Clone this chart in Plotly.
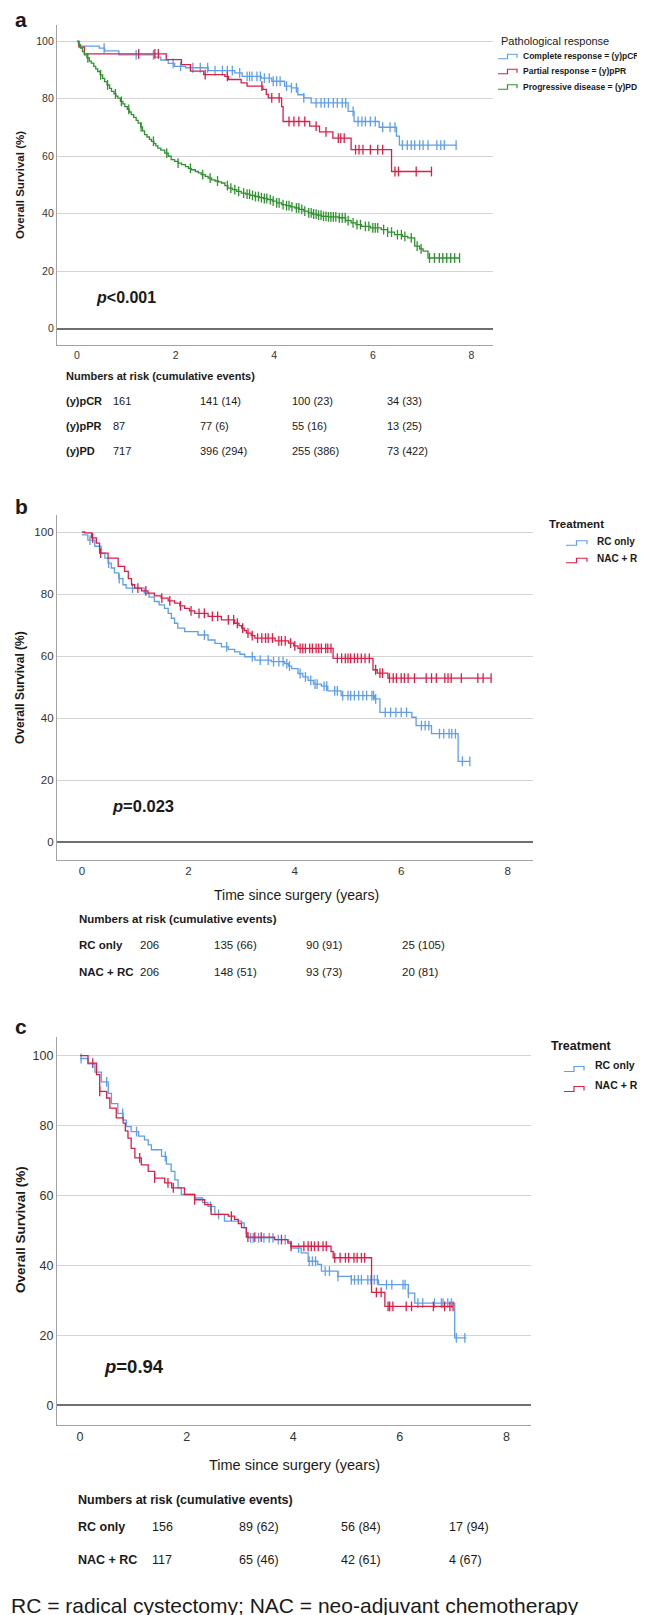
import plotly.graph_objects as go

W, H = 645, 1615
FONT = "Liberation Sans, Arial, sans-serif"
BLUE = "#5f9fe8"
RED = "#da1f48"
GREEN = "#2f912f"
INK = "#1a1a1a"

# ---------------- panel a: pathological response ----------------
pcr_t = [0, 0.04, 0.45, 0.56, 0.85, 1.57, 1.7, 1.85, 1.98, 2.2, 2.66, 3.2, 3.35, 3.74, 3.95,
         4.21, 4.35, 4.48, 4.6, 4.75, 5.5, 5.62, 6.13, 6.48, 6.54]
pcr_s = [100, 98.3, 97.6, 96.7, 95.3, 94.5, 93.5, 92.3, 91.3, 90.8, 89.8, 89.0, 87.8, 87.2, 86.1,
         84.4, 83.8, 81.4, 80.3, 78.6, 75.6, 72.1, 70.1, 67.0, 63.9]
pcr_end = 7.69
pcr_cens = [0.55, 1.2, 1.55, 1.95, 2.1, 2.35, 2.5, 2.65, 2.8, 2.95, 3.05, 3.15, 3.3, 3.45, 3.5,
            3.55, 3.65, 3.72, 3.8, 3.9, 3.98, 4.05, 4.12, 4.25, 4.35, 4.45, 4.6, 4.85, 4.95,
            5.02, 5.1, 5.2, 5.28, 5.38, 5.45, 5.6, 5.7, 5.78, 5.85, 5.95, 6.05, 6.2, 6.35, 6.45,
            6.6, 6.7, 6.78, 6.85, 6.95, 7.02, 7.12, 7.3, 7.38, 7.45, 7.69]

ppr_t = [0, 0.04, 0.15, 1.81, 2.12, 2.3, 2.57, 3.0, 3.07, 3.33, 3.45, 3.77, 3.84, 3.88, 4.15,
         4.18, 4.72, 4.92, 5.19, 5.56, 6.38]
ppr_s = [100, 98.0, 95.6, 93.6, 91.9, 89.6, 88.4, 87.8, 86.7, 85.5, 84.4, 83.3, 81.5, 80.3, 77.3,
         72.1, 70.5, 68.5, 66.3, 62.3, 54.7]
ppr_end = 7.19
ppr_cens = [1.25, 1.58, 1.65, 2.6, 3.05, 3.75, 3.95, 4.1, 4.3, 4.4, 4.5, 4.62, 4.85, 5.05, 5.3,
            5.35, 5.42, 5.65, 5.72, 5.8, 5.95, 6.1, 6.2, 6.45, 6.52, 6.88, 7.19]

pd_t = [0, 0.03, 0.07, 0.11, 0.15, 0.2, 0.25, 0.29, 0.34, 0.38, 0.42, 0.47, 0.52, 0.56, 0.61,
        0.66, 0.70, 0.75, 0.79, 0.83, 0.88, 0.93, 0.97, 1.02, 1.06, 1.10, 1.15, 1.2, 1.24, 1.29,
        1.33, 1.37, 1.42, 1.47, 1.51, 1.56, 1.6, 1.64, 1.7, 1.78, 1.85, 1.91, 1.98, 2.05, 2.12,
        2.2, 2.26, 2.32, 2.4, 2.46, 2.52, 2.6, 2.66, 2.73, 2.8, 2.87, 2.93, 3.0, 3.06, 3.15,
        3.24, 3.33, 3.42, 3.51, 3.60, 3.7, 3.78, 3.87, 3.96, 4.05, 4.15, 4.24, 4.33, 4.42, 4.51,
        4.6, 4.69, 4.78, 4.87, 4.96, 5.1, 5.3, 5.45, 5.56, 5.66, 5.77, 5.95, 6.17, 6.3, 6.44,
        6.6, 6.71, 6.85, 6.95, 7.02, 7.12]
pd_s = [100, 98.8, 97.6, 96.4, 95.3, 94.2, 93.1, 92.4, 91.3, 90.4, 89.5, 88.3, 87.1, 86.0, 84.8,
        83.6, 82.6, 81.7, 80.9, 80.2, 79.1, 78.2, 77.3, 76.3, 75.4, 74.5, 73.5, 72.5, 71.5, 70.2,
        68.8, 67.5, 66.7, 65.9, 65.2, 64.4, 63.6, 62.8, 62.1, 61.1, 60.0, 58.8, 58.2, 57.6, 57.1,
        56.4, 55.8, 55.3, 54.7, 54.2, 53.6, 53.0, 52.4, 51.8, 51.4, 51.1, 50.7, 49.8, 48.9, 48.4,
        47.8, 47.2, 46.8, 46.4, 46.0, 45.6, 45.3, 44.9, 44.4, 43.8, 43.2, 42.8, 42.4, 42.0, 41.5,
        40.9, 40.3, 39.9, 39.5, 39.1, 38.9, 38.6, 37.6, 36.8, 36.2, 35.6, 35.1, 34.5, 33.6, 32.7,
        32.1, 31.6, 28.7, 27.8, 27.0, 24.6]
pd_end = 7.76
pd_cens = [0.22, 0.48, 0.62, 0.78, 0.9, 1.05, 1.3, 1.55, 1.82, 2.05, 2.3, 2.55, 2.7, 2.85, 3.05,
           3.12, 3.2, 3.28, 3.38, 3.45, 3.5, 3.56, 3.62, 3.68, 3.74, 3.8, 3.85, 3.92, 3.98, 4.05,
           4.1, 4.18, 4.25, 4.3, 4.36, 4.45, 4.5, 4.56, 4.62, 4.7, 4.75, 4.8, 4.85, 4.9, 4.95,
           5.0, 5.05, 5.1, 5.15, 5.2, 5.25, 5.32, 5.38, 5.44, 5.5, 5.6, 5.68, 5.75, 5.85, 5.92,
           6.0, 6.05, 6.1, 6.22, 6.3, 6.38, 6.5, 6.58, 6.65, 6.78, 6.9, 6.98, 7.15, 7.25, 7.35,
           7.42, 7.5, 7.58, 7.66, 7.76]

# ---------------- panel b: RC only vs NAC + RC ----------------
b_rc_t = [0, 0.11, 0.24, 0.36, 0.43, 0.49, 0.55, 0.61, 0.69, 0.77, 0.83, 1.17, 1.26, 1.36, 1.45,
          1.55, 1.62, 1.68, 1.74, 1.80, 1.93, 2.18, 2.37, 2.5, 2.62, 2.75, 2.87, 2.97, 3.06,
          3.25, 3.56, 3.81, 3.88, 3.94, 4.06, 4.15, 4.25, 4.35, 4.5, 4.62, 4.87, 5.5, 5.6, 6.2,
          6.28, 6.57, 7.07]
b_rc_s = [99.1, 97.4, 95.4, 93.2, 91.6, 90.0, 88.4, 86.8, 85.0, 83.0, 81.9, 80.3, 79.0, 77.6,
          76.5, 75.4, 73.8, 72.2, 70.6, 69.0, 67.9, 66.8, 65.2, 64.1, 63.0, 62.2, 61.4, 60.6,
          59.8, 58.7, 58.2, 57.6, 56.8, 56.0, 54.4, 53.3, 52.2, 51.0, 50.3, 48.8, 47.3, 46.2,
          41.9, 40.3, 37.6, 35.0, 26.1]
b_rc_end = 7.29
b_rc_cens = [0.15, 0.5, 0.7, 0.95, 2.3, 2.72, 3.2, 3.35, 3.5, 3.6, 3.7, 3.78, 3.85, 3.9, 4.1,
             4.2, 4.3, 4.38, 4.42, 4.55, 4.6, 4.75, 4.8, 4.9, 5.0, 5.05, 5.12, 5.2, 5.28, 5.35,
             5.45, 5.48, 5.52, 5.7, 5.8, 5.9, 6.0, 6.1, 6.38, 6.45, 6.52, 6.72, 6.8, 6.9, 6.95,
             7.02, 7.15, 7.29]

b_nac_t = [0, 0.05, 0.18, 0.27, 0.33, 0.49, 0.68, 0.80, 0.87, 0.93, 0.99, 1.12, 1.24, 1.36, 1.49,
           1.62, 1.74, 1.84, 1.93, 2.02, 2.12, 2.37, 2.62, 2.87, 2.95, 3.0, 3.05, 3.09, 3.18,
           3.25, 3.63, 3.88, 3.98, 4.06, 4.72, 5.47, 5.55, 5.75]
b_nac_s = [100, 99.7, 98.1, 96.4, 93.2, 91.6, 88.9, 87.3, 85.0, 83.0, 81.9, 81.0, 80.3, 79.4,
           78.7, 77.8, 77.1, 76.2, 75.4, 74.6, 73.8, 72.8, 71.7, 70.6, 69.8, 69.0, 68.2, 67.4,
           66.6, 65.8, 64.9, 64.2, 63.3, 62.5, 59.3, 55.6, 54.5, 52.9]
b_nac_end = 7.69
b_nac_cens = [0.2, 0.35, 1.05, 1.2, 1.5, 1.65, 1.85, 2.05, 2.2, 2.3, 2.45, 2.55, 2.75, 2.85,
              2.92, 3.02, 3.12, 3.2, 3.3, 3.38, 3.45, 3.5, 3.58, 3.7, 3.75, 3.82, 3.92, 4.0,
              4.1, 4.15, 4.2, 4.28, 4.33, 4.4, 4.45, 4.5, 4.58, 4.62, 4.68, 4.8, 4.88, 4.95,
              5.0, 5.05, 5.12, 5.18, 5.25, 5.32, 5.4, 5.52, 5.6, 5.65, 5.78, 5.85, 5.91, 6.0,
              6.06, 6.13, 6.25, 6.47, 6.57, 6.66, 6.82, 6.88, 6.94, 7.13, 7.44, 7.54, 7.69]

# ---------------- panel c: RC only vs NAC + RC ----------------
c_rc_t = [0, 0.15, 0.28, 0.40, 0.53, 0.59, 0.71, 0.81, 0.87, 0.96, 1.10, 1.21, 1.28, 1.34, 1.53,
          1.62, 1.71, 1.78, 1.84, 1.90, 2.15, 2.30, 2.40, 2.53, 2.71, 3.03, 3.08, 3.12, 3.15,
          3.65, 3.90, 3.96, 4.15, 4.28, 4.46, 4.53, 4.84, 5.09, 5.6, 6.16, 6.28, 7.03]
c_rc_s = [99.2, 97.7, 95.3, 92.5, 89.2, 86.3, 83.5, 81.6, 79.7, 78.3, 77.0, 75.9, 74.5, 73.1,
          71.2, 69.0, 66.9, 64.5, 62.2, 60.3, 59.3, 58.0, 56.9, 54.6, 52.7, 52.2, 50.8, 49.3,
          47.9, 47.4, 46.9, 45.0, 43.6, 41.2, 40.3, 38.4, 36.9, 35.9, 34.5, 32.1, 29.2, 19.3]
c_rc_end = 7.25
c_rc_cens = [0.02, 0.5, 0.8, 1.06, 1.6, 2.45, 2.6, 3.2, 3.25, 3.35, 3.45, 3.55, 3.62, 3.72, 3.85,
             4.1, 4.3, 4.36, 4.42, 4.6, 4.68, 4.84, 5.09, 5.15, 5.22, 5.28, 5.4, 5.46, 5.52,
             5.58, 5.75, 5.85, 6.06, 6.1, 6.16, 6.34, 6.43, 6.65, 6.78, 6.81, 6.9, 6.97, 7.06,
             7.22]

c_nac_t = [0, 0.15, 0.31, 0.37, 0.5, 0.56, 0.68, 0.81, 0.85, 0.90, 0.96, 1.03, 1.15, 1.28, 1.40,
           1.59, 1.72, 1.96, 2.15, 2.34, 2.46, 2.78, 2.90, 2.97, 3.03, 3.12, 3.65, 3.90, 3.96,
           4.71, 4.75, 5.47, 5.72]
c_nac_s = [100, 97.9, 94.6, 89.8, 87.9, 85.0, 82.2, 80.7, 78.5, 76.4, 73.5, 70.8, 68.8, 66.9,
           65.0, 63.6, 62.2, 60.3, 58.8, 57.4, 54.6, 54.1, 53.2, 52.0, 50.8, 48.1, 47.4, 46.4,
           45.5, 44.0, 42.2, 32.3, 28.3]
c_nac_end = 7.0
c_nac_cens = [0.24, 0.37, 1.12, 1.4, 1.65, 1.75, 2.15, 2.84, 3.15, 3.28, 3.4, 3.78, 3.96, 4.2,
              4.28, 4.34, 4.4, 4.47, 4.56, 4.62, 4.78, 4.88, 4.98, 5.04, 5.14, 5.2, 5.28, 5.34,
              5.56, 5.65, 5.78, 5.81, 5.87, 6.12, 6.22, 6.63, 6.84, 6.94, 7.0]

# ---------------- numbers at risk ----------------
risk_a_groups = ["(y)pCR", "(y)pPR", "(y)PD"]
risk_a_n = [[161, 141, 100, 34], [87, 77, 55, 13], [717, 396, 255, 73]]
risk_a_ev = [[None, 14, 23, 33], [None, 6, 16, 25], [None, 294, 386, 422]]

risk_b_groups = ["RC only", "NAC + RC"]
risk_b_n = [[206, 135, 90, 25], [206, 148, 93, 20]]
risk_b_ev = [[None, 66, 91, 105], [None, 51, 73, 81]]

risk_c_groups = ["RC only", "NAC + RC"]
risk_c_n = [[156, 89, 56, 17], [117, 65, 42, 4]]
risk_c_ev = [[None, 62, 84, 94], [None, 46, 61, 67]]

x_ticks = [0, 2, 4, 6, 8]
y_ticks = [0, 20, 40, 60, 80, 100]


def fx(x):
    return x / W


def fy(y):
    return 1 - y / H


def step_at(ts, ss, t):
    v = ss[0]
    for ti, si in zip(ts, ss):
        if ti <= t + 1e-9:
            v = si
        else:
            break
    return v


fig = go.Figure()


def add_km(ts, ss, end, cens, color, ax):
    xa, ya = ("x", "y") if ax == 1 else (f"x{ax}", f"y{ax}")
    fig.add_trace(go.Scatter(
        x=list(ts) + [end], y=list(ss) + [ss[-1]], mode="lines",
        line=dict(color=color, width=1.3, shape="hv"),
        xaxis=xa, yaxis=ya, showlegend=False, hoverinfo="skip"))
    fig.add_trace(go.Scatter(
        x=cens, y=[step_at(ts, ss, c) for c in cens], mode="markers",
        marker=dict(symbol="line-ns", size=7, color=color, line=dict(color=color, width=1.3)),
        xaxis=xa, yaxis=ya, showlegend=False, hoverinfo="skip"))


add_km(pcr_t, pcr_s, pcr_end, pcr_cens, BLUE, 1)
add_km(ppr_t, ppr_s, ppr_end, ppr_cens, RED, 1)
add_km(pd_t, pd_s, pd_end, pd_cens, GREEN, 1)
add_km(b_rc_t, b_rc_s, b_rc_end, b_rc_cens, BLUE, 2)
add_km(b_nac_t, b_nac_s, b_nac_end, b_nac_cens, RED, 2)
add_km(c_rc_t, c_rc_s, c_rc_end, c_rc_cens, BLUE, 3)
add_km(c_nac_t, c_nac_s, c_nac_end, c_nac_cens, RED, 3)

# pixel boxes (left, top, right, bottom), x=0 pixel, px per year, y=0 pixel, px per %
panels = [
    dict(box=(49, 17, 485, 337), x0=69, kx=49.3, y0=320.7, ky=2.874, fs=10.5),
    dict(box=(49, 507, 525, 852), x0=74, kx=53.2, y0=834.3, ky=3.103, fs=11.5),
    dict(box=(49, 1029, 523, 1417), x0=72, kx=53.3, y0=1397.3, ky=3.496, fs=12.5),
]

layout_axes = {}
for i, p in enumerate(panels, start=1):
    l, t, r, b = p["box"]
    sx = "" if i == 1 else str(i)
    layout_axes[f"xaxis{sx}"] = dict(
        domain=[fx(l), fx(r)], range=[(l - p["x0"]) / p["kx"], (r - p["x0"]) / p["kx"]],
        anchor=f"y{sx}", tickvals=x_ticks, ticks="", showgrid=False, zeroline=False,
        showline=True, linecolor="#a3a3a3", linewidth=1.3,
        tickfont=dict(family=FONT, size=p["fs"], color="#333"), fixedrange=True)
    layout_axes[f"yaxis{sx}"] = dict(
        domain=[fy(b), fy(t)], range=[(p["y0"] - b) / p["ky"], (p["y0"] - t) / p["ky"]],
        anchor=f"x{sx}", tickvals=y_ticks, ticks="", showgrid=True, gridcolor="#d4d4d4",
        gridwidth=1.3, zeroline=True, zerolinecolor="#6f6f6f", zerolinewidth=1.6,
        showline=True, linecolor="#a3a3a3", linewidth=1.3,
        tickfont=dict(family=FONT, size=p["fs"], color="#333"), fixedrange=True)

ann = []


def txt(x, y, s, size, bold=False, anchor="left", color=INK, angle=0):
    ann.append(dict(x=fx(x), y=fy(y), xref="paper", yref="paper", showarrow=False,
                    text=f"<b>{s}</b>" if bold else s, xanchor=anchor, yanchor="middle",
                    textangle=angle, borderpad=0, font=dict(family=FONT, size=size, color=color)))


# panel letters
txt(6, 11, "a", 21, bold=True)
txt(6, 498, "b", 21, bold=True)
txt(6, 1018, "c", 21, bold=True)

# y axis titles
txt(12, 177, "Overall Survival (%)", 11.5, bold=True, anchor="center", angle=-90)
txt(12, 680, "Overall Survival (%)", 12, bold=True, anchor="center", angle=-90)
txt(12, 1222, "Overall Survival (%)", 13.5, bold=True, anchor="center", angle=-90)

# x axis titles
txt(288, 887, "Time since surgery (years)", 14, anchor="center")
txt(286, 1457, "Time since surgery (years)", 14.5, anchor="center")

# p values
txt(87, 290, "<i>p</i>&lt;0.001", 16, bold=True)
txt(103, 798, "<i>p</i>=0.023", 16.5, bold=True)
txt(95, 1358, "<i>p</i>=0.94", 18.5, bold=True)

shapes = []


def legend_icon(x, y, color, w=19, h=4.5):
    path = (f"M {fx(x)} {fy(y + h / 2)} L {fx(x + w / 2)} {fy(y + h / 2)} "
            f"L {fx(x + w / 2)} {fy(y - h / 2)} L {fx(x + w)} {fy(y - h / 2)} "
            f"L {fx(x + w)} {fy(y + h / 2 - 1)}")
    shapes.append(dict(type="path", xref="paper", yref="paper", path=path,
                       line=dict(color=color, width=1.2)))


# legend a
txt(492, 33, "Pathological response", 11)
for yy, col, lab in [(48.5, BLUE, "Complete response = (y)pCR"),
                     (63.5, RED, "Partial response = (y)pPR"),
                     (79, GREEN, "Progressive disease = (y)PD")]:
    legend_icon(490, yy, col)
    txt(514, yy, lab, 8.5, bold=True)

# legend b
txt(540, 516, "Treatment", 11.5, bold=True)
for yy, col, lab in [(533, BLUE, "RC only"), (550.5, RED, "NAC + RC")]:
    legend_icon(558, yy + 2, col, w=21)
    txt(588, yy, lab, 10, bold=True)

# legend c
txt(542, 1038, "Treatment", 12.5, bold=True)
for yy, col, lab in [(1057, BLUE, "RC only"), (1077, RED, "NAC + RC")]:
    legend_icon(556, yy + 4, col, w=20, h=5)
    txt(586, yy, lab, 10.5, bold=True)


def risk_table(head_y, row_ys, label_x, col_xs, groups, ns, evs, size):
    txt(label_x, head_y, "Numbers at risk (cumulative events)", size, bold=True)
    for g, n_row, e_row, ry in zip(groups, ns, evs, row_ys):
        txt(label_x, ry, g, size, bold=True)
        for n, e, cx in zip(n_row, e_row, col_xs):
            txt(cx, ry, f"{n}" if e is None else f"{n} ({e})", size)


risk_table(368, [393, 417.5, 443], 57, [104, 191, 283, 378],
           risk_a_groups, risk_a_n, risk_a_ev, 11)
risk_table(911, [937, 964], 70, [131, 205, 297, 393],
           risk_b_groups, risk_b_n, risk_b_ev, 11.5)
risk_table(1492, [1519, 1552], 69, [143, 230, 332, 440],
           risk_c_groups, risk_c_n, risk_c_ev, 12.5)

# footnote
txt(2, 1597, "RC = radical cystectomy; NAC = neo-adjuvant chemotherapy", 21)

fig.update_layout(
    width=W, height=H, margin=dict(l=0, r=0, t=0, b=0),
    paper_bgcolor="white", plot_bgcolor="white",
    annotations=ann, shapes=shapes, showlegend=False,
    **layout_axes)

fig.write_html("out.html")
